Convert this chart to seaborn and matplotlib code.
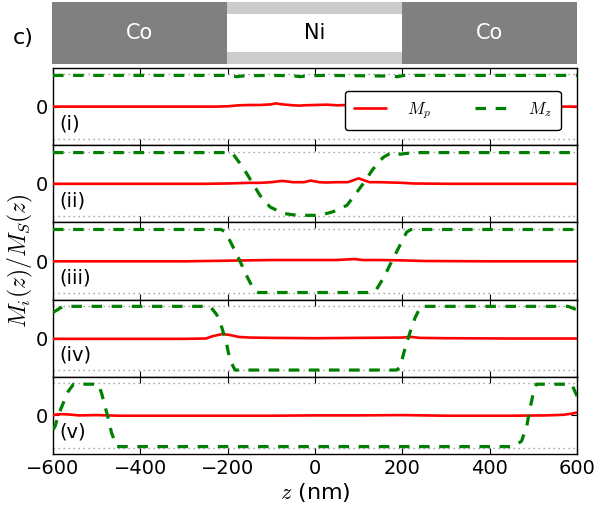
import numpy as np
import pandas as pd
import matplotlib
matplotlib.use("Agg")
import matplotlib.pyplot as plt
import seaborn as sns

sns.set_style("ticks")
plt.rcParams["font.family"] = ["DejaVu Sans"]
plt.rcParams["mathtext.fontset"] = "cm"
plt.rcParams["text.color"] = "black"
plt.rcParams["axes.labelcolor"] = "black"
plt.rcParams["xtick.color"] = "black"
plt.rcParams["ytick.color"] = "black"

# Layer stack along z (nm)
layer_names = ["Co", "Ni", "Co"]
layer_edges = [-600, -200, 200, 600]
layer_colors = ["#808080", "#ffffff", "#808080"]
layer_text_colors = ["white", "black", "white"]

panel_labels = ["(i)", "(ii)", "(iii)", "(iv)", "(v)"]
x_ticks = [-600, -400, -200, 0, 200, 400, 600]

# In-plane component M_p for each state
mp_z_1 = [-600, -500, -400, -300, -225, -200, -175, -150, -125, -100, -90, -75, -50, -35, -25,
          0, 25, 40, 50, 75, 100, 125, 150, 175, 200, 225, 300, 400, 500, 600]
mp_v_1 = [0.0, 0.0, 0.0, 0.0, 0.0, 0.01, 0.04, 0.05, 0.05, 0.07, 0.1, 0.07, 0.04, 0.03, 0.04,
          0.05, 0.06, 0.05, 0.04, 0.05, 0.06, 0.04, 0.05, 0.04, 0.02, 0.0, 0.0, 0.0, 0.0, 0.0]

mp_z_2 = [-600, -400, -250, -200, -175, -150, -125, -100, -75, -50, -25, -10, 10, 25,
          50, 75, 90, 100, 110, 125, 150, 175, 200, 225, 300, 400, 500, 600]
mp_v_2 = [0.0, 0.0, 0.0, 0.01, 0.02, 0.03, 0.03, 0.05, 0.09, 0.05, 0.05, 0.1, 0.05, 0.04,
          0.05, 0.05, 0.12, 0.17, 0.12, 0.05, 0.05, 0.04, 0.03, 0.01, 0.0, 0.0, 0.0, 0.0]

mp_z_3 = [-600, -450, -300, -200, -100, -50, 0, 50, 75, 90, 110, 150, 200, 250, 400, 600]
mp_v_3 = [-0.01, -0.01, -0.01, 0.01, 0.03, 0.03, 0.03, 0.03, 0.05, 0.06, 0.03, 0.03, 0.02,
          0.0, -0.01, -0.01]

mp_z_4 = [-600, -450, -300, -250, -235, -212, -195, -175, -150, -100, 0, 100, 200, 220,
          240, 300, 450, 600]
mp_v_4 = [-0.02, -0.02, -0.02, -0.01, 0.06, 0.13, 0.1, 0.04, 0.02, 0.01, 0.0, 0.01, 0.02,
          0.04, 0.01, 0.0, -0.01, -0.01]

mp_z_5 = [-600, -585, -565, -540, -500, -450, -300, -100, 0, 100, 200, 300, 450, 530, 570,
          590, 600]
mp_v_5 = [0.01, 0.04, 0.03, 0.0, 0.01, -0.01, -0.01, -0.01, 0.0, 0.0, 0.01, -0.01, -0.01,
          0.0, 0.02, 0.06, 0.09]

# Out-of-plane component M_z for each state
mz_z_1 = [-600, -200, -180, -160, -100, -50, -34, -15, 25, 100, 170, 188, 205, 600]
mz_v_1 = [0.97, 0.97, 0.93, 0.96, 0.97, 0.96, 0.93, 0.96, 0.97, 0.96, 0.95, 0.93, 0.97, 0.97]

mz_z_2 = [-600, -200, -188, -165, -142, -126, -103, -73, -41, 11, 41, 73, 96, 110, 133,
          156, 176, 195, 225, 600]
mz_v_2 = [0.97, 0.97, 0.93, 0.51, 0.0, -0.36, -0.72, -0.92, -0.98, -0.98, -0.87, -0.67,
          -0.26, 0.0, 0.46, 0.82, 0.98, 0.92, 0.97, 0.97]

mz_z_3 = [-600, -215, -205, -190, -172, -155, -140, -130, 130, 140, 158, 176, 195, 210,
          220, 600]
mz_v_3 = [0.98, 0.98, 0.9, 0.5, 0.0, -0.5, -0.9, -0.98, -0.98, -0.9, -0.5, 0.0, 0.5, 0.9,
          0.98, 0.98]

mz_z_4 = [-600, -577, -240, -225, -213, -202, -195, -183, 187, 195, 206, 218, 229, 242,
          580, 600]
mz_v_4 = [0.8, 0.99, 0.99, 0.73, 0.32, -0.2, -0.68, -0.99, -0.99, -0.9, -0.32, 0.2, 0.63,
          0.99, 0.99, 0.88]

mz_z_5 = [-600, -595, -588, -576, -565, -553, -496, -489, -481, -473, -466, -454, 454, 473,
          485, 492, 500, 507, 588, 600]
mz_v_5 = [-0.45, -0.33, 0.0, 0.4, 0.75, 0.97, 0.97, 0.7, 0.29, -0.12, -0.54, -0.97, -0.97,
          -0.8, -0.33, 0.19, 0.7, 0.97, 0.97, 0.6]

mp_states = [(mp_z_1, mp_v_1), (mp_z_2, mp_v_2), (mp_z_3, mp_v_3),
             (mp_z_4, mp_v_4), (mp_z_5, mp_v_5)]
mz_states = [(mz_z_1, mz_v_1), (mz_z_2, mz_v_2), (mz_z_3, mz_v_3),
             (mz_z_4, mz_v_4), (mz_z_5, mz_v_5)]

W, H = 600, 511
fig = plt.figure(figsize=(W / 100, H / 100), dpi=100)

# ---- layer diagram on top ----
axl = fig.add_axes([52 / W, 1 - 64 / H, 525 / W, 62 / H])
axl.set_xlim(-600, 600)
axl.set_ylim(0, 1)
for i, name in enumerate(layer_names):
    x0, x1 = layer_edges[i], layer_edges[i + 1]
    if name == "Ni":
        axl.axvspan(x0, x1, color="#cccccc", lw=0)
        axl.fill_between([x0, x1], 0.195, 0.805, color=layer_colors[i], lw=0)
    else:
        axl.axvspan(x0, x1, color=layer_colors[i], lw=0)
    axl.text((x0 + x1) / 2, 0.5, name, ha="center", va="center",
             fontsize=15, color=layer_text_colors[i])
axl.axis("off")

fig.text(23 / W, 1 - 38 / H, "c)", fontsize=16, ha="center", va="center")

# ---- stacked magnetisation panels ----
left, width = 53 / W, 524 / W
top_px, panel_px = 68, 77.2
mz_dash = (0, (3.3, 3.0))
legend_handles = []
axes = []
for k in range(5):
    bottom = 1 - (top_px + panel_px * (k + 1)) / H
    ax = fig.add_axes([left, bottom, width, panel_px / H])
    axes.append(ax)
    for yref in (1, -1):
        ax.axhline(yref, color="#9a9a9a", lw=1.0, linestyle=(0, (1, 2.6)), zorder=1)

    zp, vp = mp_states[k]
    sns.lineplot(x=zp, y=vp, ax=ax, color="red", lw=1.9, estimator=None,
                 sort=False, label="$M_p$", zorder=3)
    lp = ax.lines[-1]
    zz, vz = mz_states[k]
    sns.lineplot(x=zz, y=vz, ax=ax, color="green", lw=2.3, estimator=None,
                 sort=False, label="$M_z$", linestyle=mz_dash, zorder=4)
    lz = ax.lines[-1]
    if k == 0:
        legend_handles = [lp, lz]
    ax.get_legend().remove()

    ax.set_xlim(-600, 600)
    ax.set_ylim(-1.2, 1.2)
    ax.set_xticks(x_ticks)
    ax.set_yticks([0])
    ax.tick_params(axis="both", direction="in", top=True, right=True,
                   length=4, width=0.8, labelsize=14, colors="black")
    if k < 4:
        ax.tick_params(axis="x", labelbottom=False)
    ax.set_xlabel("")
    ax.set_ylabel("")
    for sp in ax.spines.values():
        sp.set_linewidth(1.0)
        sp.set_color("black")
    ax.text(0.012, 0.28, panel_labels[k], transform=ax.transAxes,
            ha="left", va="center", fontsize=14, color="black")

leg = axes[0].legend(handles=legend_handles, labels=["$M_p$", "$M_z$"], ncol=2,
                     loc="lower right", bbox_to_anchor=(0.985, 0.09), fontsize=12,
                     handlelength=1.9, handletextpad=1.3, columnspacing=2.6,
                     borderpad=0.55, fancybox=True, framealpha=1, edgecolor="black")
leg.get_frame().set_linewidth(1.0)

axes[-1].set_xlabel("$z$ (nm)", fontsize=16, labelpad=2, color="black")
fig.text(20 / W, 1 - 261 / H, "$M_i(z)/M_S(z)$", rotation=90, fontsize=17,
         ha="center", va="center", color="black")

fig.savefig("out.png", dpi=100)
